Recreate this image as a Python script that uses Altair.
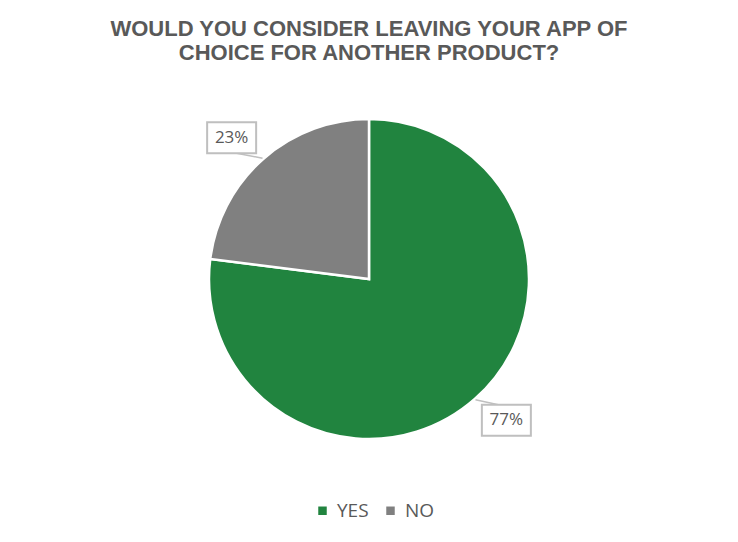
import altair as alt
import pandas as pd

categories = ["YES", "NO"]
values = [77, 23]
labels = ["77%", "23%"]
colors = ["#21843F", "#808080"]
order = [0, 1]

title_lines = ["WOULD YOU CONSIDER LEAVING YOUR APP OF", "CHOICE FOR ANOTHER PRODUCT?"]

df = pd.DataFrame({"answer": categories, "value": values, "label": labels, "ord": order})

R = 160
LR = 197
LABEL_SHIFT = -0.049  # radians, label placement rotation

xs = alt.Scale(domain=[-361, 361], nice=False, zero=False)
ys = alt.Scale(domain=[-200, 200], nice=False, zero=False)

base = alt.Chart(df).transform_window(
    cum="sum(value)", sort=[alt.SortField("ord")]
).transform_joinaggregate(
    total="sum(value)"
).transform_calculate(
    t0="(datum.cum - datum.value) / datum.total * 2 * PI",
    t1="datum.cum / datum.total * 2 * PI",
    mid="(datum.cum - datum.value / 2) / datum.total * 2 * PI",
    cx="0",
    cy="0",
).transform_calculate(
    la=f"datum.mid + ({LABEL_SHIFT})",
).transform_calculate(
    lx=f"sin(datum.la) * {LR}",
    ly=f"cos(datum.la) * {LR}",
    ex=f"sin(datum.mid) * {R + 1}",
    ey=f"cos(datum.mid) * {R + 1}",
).transform_calculate(
    px="datum.lx - (sin(datum.la) > 0 ? 8 : -5)",
    py="datum.ly - (cos(datum.la) > 0 ? 15.5 : -15.5)",
    bx1="datum.lx - 24.5",
    bx2="datum.lx + 24.5",
    by1="datum.ly - 15.5",
    by2="datum.ly + 15.5",
)

pie = base.mark_arc(outerRadius=R, stroke="white", strokeWidth=2.5).encode(
    x=alt.X("cx:Q", scale=xs, axis=None),
    y=alt.Y("cy:Q", scale=ys, axis=None),
    theta=alt.Theta("t0:Q", scale=None),
    theta2="t1:Q",
    color=alt.Color(
        "answer:N",
        scale=alt.Scale(domain=categories, range=colors),
        legend=alt.Legend(
            title=None,
            orient="none",
            legendX=305,
            legendY=422,
            direction="horizontal",
            symbolType="square",
            symbolSize=72,
            symbolStrokeWidth=0,
            labelFont="Open Sans",
            labelFontSize=19,
            labelColor="#595959",
            labelOffset=5,
            columnPadding=12,
        ),
    ),
)

leader = base.mark_rule(color="#BFBFBF", strokeWidth=1.5).encode(
    x=alt.X("ex:Q", scale=xs, axis=None),
    y=alt.Y("ey:Q", scale=ys, axis=None),
    x2="px:Q",
    y2="py:Q",
)

box = base.mark_rect(fill="white", stroke="#BFBFBF", strokeWidth=2).encode(
    x=alt.X("bx1:Q", scale=xs, axis=None),
    x2="bx2:Q",
    y=alt.Y("by1:Q", scale=ys, axis=None),
    y2="by2:Q",
)

text = base.mark_text(font="Open Sans", fontSize=17, color="#595959").encode(
    x=alt.X("lx:Q", scale=xs, axis=None),
    y=alt.Y("ly:Q", scale=ys, axis=None),
    text="label:N",
)

chart = alt.layer(pie, leader, box, text).properties(
    width=722,
    height=400,
    autosize=alt.AutoSizeParams(type="none"),
    padding={"top": 71, "bottom": 55, "left": 0, "right": 0},
    background="white",
    title=alt.TitleParams(
        text=title_lines,
        font="Liberation Sans",
        fontSize=22,
        fontWeight="bold",
        color="#595959",
        anchor="middle",
        lineHeight=24,
        offset=14,
    ),
).configure_view(stroke=None)

chart.save("out.html", embed_options={"renderer": "svg", "actions": False})
